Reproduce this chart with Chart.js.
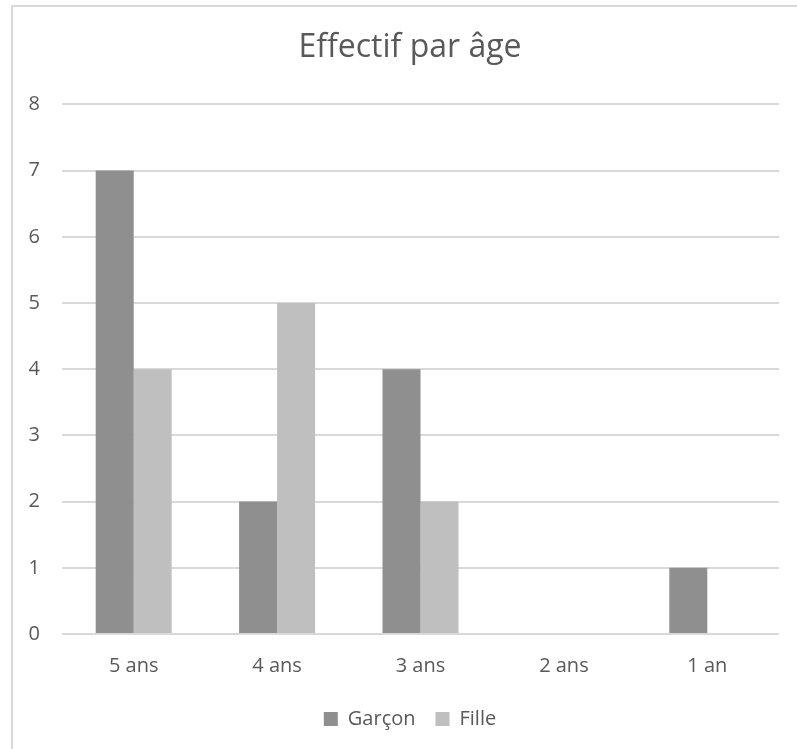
<!DOCTYPE html>
<html>
<head>
<meta charset="utf-8">
<script src="https://cdn.jsdelivr.net/npm/chart.js@4/dist/chart.umd.min.js"></script>
<style>
  html, body { margin: 0; padding: 0; background: #ffffff; }
  #wrap { width: 797px; height: 749px; position: relative; }
</style>
</head>
<body>
<div id="wrap"><canvas id="chart" width="797" height="749"></canvas></div>
<script>
const categories = ['5 ans', '4 ans', '3 ans', '2 ans', '1 an'];
const garcon = [7, 2, 4, 0, 1];
const fille = [4, 5, 2, 0, 0];
const yTicks = [0, 1, 2, 3, 4, 5, 6, 7, 8];

const FONT = '"Open Sans", "Liberation Sans", sans-serif';
const TEXT = '#595959';
const GRID = '#d9d9d9';

// Light frame on the left and top edges of the chart box
const framePlugin = {
  id: 'frame',
  beforeDraw(chart) {
    const ctx = chart.ctx;
    ctx.save();
    ctx.fillStyle = '#ffffff';
    ctx.fillRect(0, 0, chart.width, chart.height);
    ctx.strokeStyle = GRID;
    ctx.lineWidth = 2;
    ctx.beginPath();
    ctx.moveTo(12, chart.height);
    ctx.lineTo(12, 6);
    ctx.lineTo(chart.width, 6);
    ctx.stroke();
    ctx.restore();
  }
};

new Chart(document.getElementById('chart'), {
  type: 'bar',
  data: {
    labels: categories,
    datasets: [
      { label: 'Garçon', data: garcon, backgroundColor: '#8f8f8f' },
      { label: 'Fille', data: fille, backgroundColor: '#bfbfbf' }
    ]
  },
  options: {
    responsive: false,
    animation: false,
    devicePixelRatio: 1,
    layout: { padding: { left: 23, right: 0, top: 0, bottom: 10 } },
    datasets: { bar: { categoryPercentage: 0.53, barPercentage: 1.0 } },
    plugins: {
      title: {
        display: true,
        text: 'Effectif par âge',
        color: TEXT,
        font: { family: FONT, size: 32, weight: 'normal' },
        padding: { top: 29, bottom: 37 }
      },
      legend: {
        position: 'bottom',
        labels: {
          color: TEXT,
          font: { family: FONT, size: 20 },
          boxWidth: 14,
          boxHeight: 14,
          padding: 20
        }
      },
      tooltip: { enabled: false }
    },
    scales: {
      x: {
        grid: { display: false },
        border: { display: false },
        ticks: { color: TEXT, font: { family: FONT, size: 20 }, padding: 12 },
        afterFit(scale) { scale.height = 55; }
      },
      y: {
        min: 0,
        max: 8,
        afterBuildTicks(scale) { scale.ticks = yTicks.map(v => ({ value: v })); },
        grid: { color: GRID, lineWidth: 2, drawTicks: false },
        border: { display: false },
        ticks: { color: TEXT, font: { family: FONT, size: 20 }, padding: 22 },
        afterFit(scale) { scale.width = 39; }
      },
      // empty right-hand margin beside the plot area
      side: {
        type: 'linear',
        position: 'right',
        grid: { display: false },
        border: { display: false },
        ticks: { display: false },
        afterFit(scale) { scale.width = 18; }
      }
    }
  },
  plugins: [framePlugin]
});
</script>
</body>
</html>
